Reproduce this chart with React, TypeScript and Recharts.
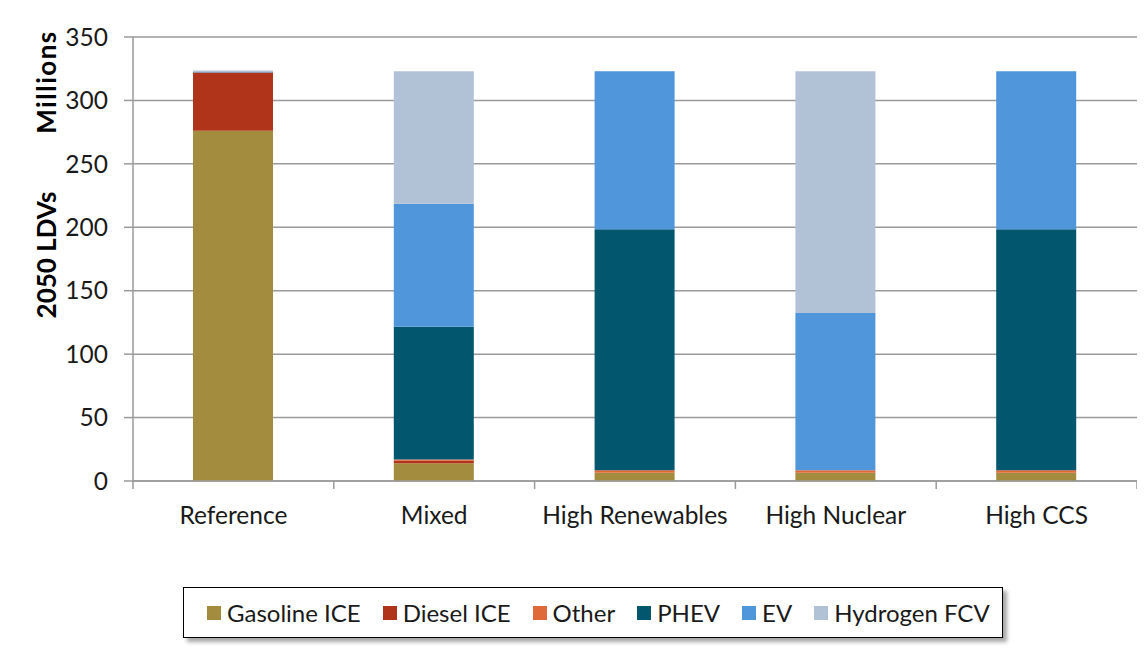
import {BarChart, Bar, XAxis, YAxis, CartesianGrid, Label} from 'recharts';

const categories = ['Reference', 'Mixed', 'High Renewables', 'High Nuclear', 'High CCS'];
const gasoline = [276, 14, 6.5, 6.5, 6.5];
const diesel = [46, 2, 0, 0, 0];
const other = [0, 1, 2, 2, 2];
const phev = [0, 104.5, 190, 0, 190];
const ev = [0.5, 97, 124.5, 124, 124.5];
const hydrogen = [1, 104.5, 0, 190.5, 0];
const yTicks = [0, 50, 100, 150, 200, 250, 300, 350];

const series = [
    {key: 'gasoline', name: 'Gasoline ICE', values: gasoline, color: '#A38C3D'},
    {key: 'diesel', name: 'Diesel ICE', values: diesel, color: '#B03419'},
    {key: 'other', name: 'Other', values: other, color: '#E0693A'},
    {key: 'phev', name: 'PHEV', values: phev, color: '#02576F'},
    {key: 'ev', name: 'EV', values: ev, color: '#5096DA'},
    {key: 'hydrogen', name: 'Hydrogen FCV', values: hydrogen, color: '#B2C2D6'},
];

const data = categories.map((cat, i) => {
    const row: Record<string, string | number> = {cat};
    series.forEach(s => { row[s.key] = s.values[i]; });
    return row;
});

const CHART_W = 1137;
const CHART_H = 664;
const MARGIN = {top: 29, right: 8, left: 0, bottom: 151};
const Y_W = 125;
const PLOT_W = CHART_W - MARGIN.right - MARGIN.left - Y_W;
const AXIS = '#9a9a9a';
const TEXT = '#1a1a1a';

function CategoryTick(props: any) {
    const {x, y, payload, index} = props;
    const half = PLOT_W / categories.length / 2;
    return (
        <g>
            <line x1={x - half} x2={x - half} y1={y - 8} y2={y} stroke={AXIS} strokeWidth={1.5}/>
            {index === categories.length - 1 &&
                <line x1={x + half} x2={x + half} y1={y - 8} y2={y} stroke={AXIS} strokeWidth={1.5}/>}
            <text x={x} y={y} dy={35} textAnchor="middle" fontSize={24.5} fill={TEXT}>{payload.value}</text>
        </g>
    );
}

function YTitle(props: any) {
    const {viewBox} = props;
    const cx = viewBox.x + 38;
    return (
        <g fontWeight="bold" fontSize={26} fill="#000">
            <text x={cx} y={viewBox.y + 45} textAnchor="middle" dominantBaseline="central" letterSpacing={1.5}
                  transform={`rotate(-90 ${cx} ${viewBox.y + 45})`}>Millions</text>
            <text x={cx} y={viewBox.y + 218} textAnchor="middle" dominantBaseline="central"
                  transform={`rotate(-90 ${cx} ${viewBox.y + 218})`}>2050 LDVs</text>
        </g>
    );
}

export default function App() {
    return (
        <div style={{
            position: 'relative', width: 1200, height: 700, margin: '-1px 0 0 -1px',
            borderLeft: '1px solid #808080', borderTop: '1px solid #808080',
            fontFamily: 'Lato, sans-serif',
        }}>
            <BarChart width={CHART_W} height={CHART_H} data={data} margin={MARGIN}>
                <CartesianGrid vertical={false} stroke={AXIS} strokeWidth={1.5}/>
                <XAxis dataKey="cat" interval={0} height={40} tickSize={8} tickMargin={0}
                       tickLine={false} axisLine={{stroke: AXIS, strokeWidth: 1.5}} tick={<CategoryTick/>}/>
                <YAxis width={Y_W} domain={[0, 350]} ticks={yTicks} tickSize={9} tickMargin={16}
                       axisLine={{stroke: AXIS, strokeWidth: 1.5}} tickLine={{stroke: AXIS, strokeWidth: 1.5}}
                       tick={{fontSize: 24.5, fill: TEXT}}>
                    <Label content={<YTitle/>}/>
                </YAxis>
                {series.map(s => (
                    <Bar key={s.key} dataKey={s.key} name={s.name} stackId="a" fill={s.color}
                         barSize={80} isAnimationActive={false}/>
                ))}
            </BarChart>
            <div style={{
                position: 'absolute', left: 175, top: 579, width: 820, height: 51, boxSizing: 'border-box',
                border: '1.5px solid #000', background: '#fff', boxShadow: '4px 4px 4px rgba(0,0,0,0.35)',
                display: 'flex', alignItems: 'center', paddingLeft: 23, gap: 22,
                fontSize: 24, color: TEXT, whiteSpace: 'nowrap',
            }}>
                {series.map(s => (
                    <div key={s.key} style={{display: 'flex', alignItems: 'center', gap: 6, flexShrink: 0}}>
                        <span style={{width: 14, height: 14, background: s.color, display: 'inline-block'}}/>
                        <span>{s.name}</span>
                    </div>
                ))}
            </div>
        </div>
    );
}
